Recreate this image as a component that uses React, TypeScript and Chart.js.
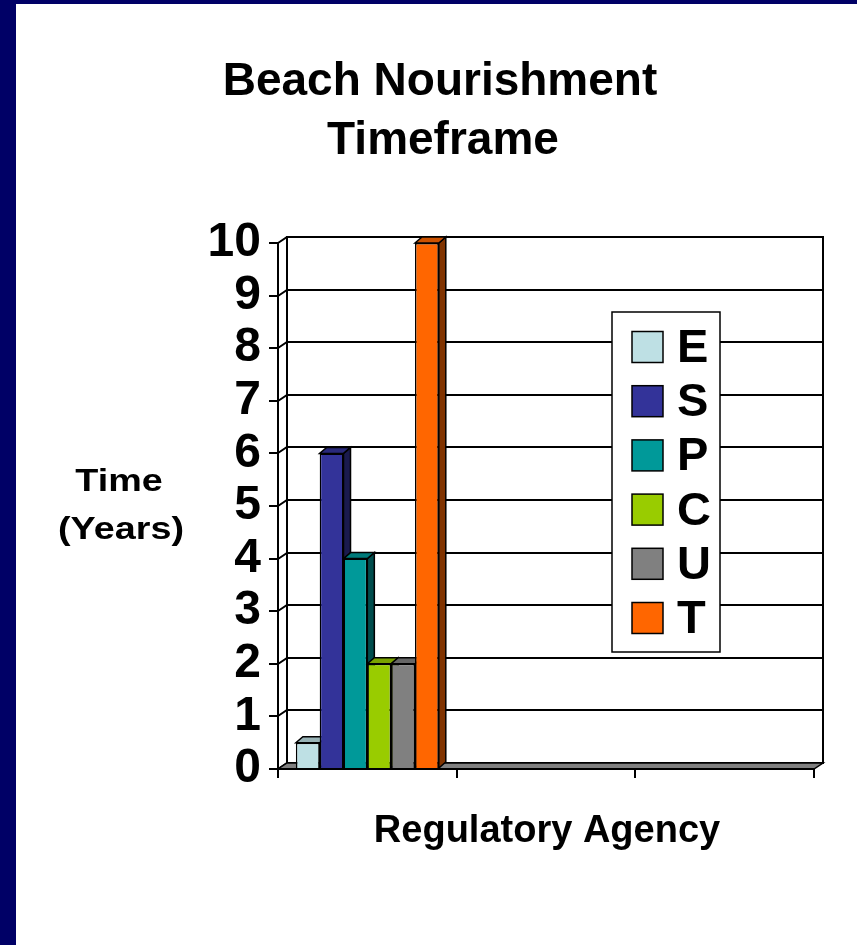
import React, { useEffect, useRef } from "react";
import { Chart, registerables } from "chart.js";

Chart.register(...registerables);

// ---- data ----
const categories = ["", "", ""];
const seriesNames = ["E", "S", "P", "C", "U", "T"];
const valuesE = [0.5, null, null];
const valuesS = [6, null, null];
const valuesP = [4, null, null];
const valuesC = [2, null, null];
const valuesU = [2, null, null];
const valuesT = [10, null, null];
const seriesColors = ["#BEE0E4", "#333399", "#009999", "#99CC00", "#808080", "#FF6600"];
const yMin = 0;
const yMax = 10;
const yStep = 1;
const titleLines = ["Beach Nourishment", "Timeframe"];
const yTitleLines = ["Time", "(Years)"];
const xTitle = "Regulatory Agency";

const FONT = '"Liberation Sans", Arial, sans-serif';
const W = 857;
const H = 945;
const DX_WALL = 9;
const DY_WALL = 6;
const DX_BAR = 7;
const DY_BAR = 6;

function shade(hex: string, f: number) {
  const n = parseInt(hex.slice(1), 16);
  const r = Math.round(((n >> 16) & 255) * f);
  const g = Math.round(((n >> 8) & 255) * f);
  const b = Math.round((n & 255) * f);
  return `rgb(${r},${g},${b})`;
}

const backgroundPlugin = {
  id: "bg3d",
  beforeDraw(chart: any) {
    const { ctx, chartArea } = chart;
    const ys = chart.scales.y;
    const { left, right, bottom } = chartArea;
    ctx.save();
    ctx.fillStyle = "#fff";
    ctx.fillRect(0, 0, W, H);
    ctx.fillStyle = "#000066";
    ctx.fillRect(0, 0, 16, H);
    ctx.fillRect(0, 0, W, 4);

    const topY = ys.getPixelForValue(yMax);
    ctx.lineWidth = 2;
    ctx.strokeStyle = "#000";
    ctx.strokeRect(left + DX_WALL, topY - DY_WALL, right - left, bottom - topY);
    for (let v = yMin; v <= yMax; v += yStep) {
      const y = Math.round(ys.getPixelForValue(v));
      ctx.beginPath();
      ctx.moveTo(left, y);
      ctx.lineTo(left + DX_WALL, y - DY_WALL);
      ctx.lineTo(right + DX_WALL, y - DY_WALL);
      ctx.stroke();
    }
    ctx.beginPath();
    ctx.moveTo(left + DX_WALL, topY - DY_WALL);
    ctx.lineTo(left + DX_WALL, bottom - DY_WALL);
    ctx.stroke();
    ctx.beginPath();
    ctx.moveTo(left, bottom);
    ctx.lineTo(right, bottom);
    ctx.lineTo(right + DX_WALL, bottom - DY_WALL);
    ctx.lineTo(left + DX_WALL, bottom - DY_WALL);
    ctx.closePath();
    ctx.fillStyle = "#808080";
    ctx.fill();
    ctx.lineWidth = 1.5;
    ctx.stroke();
    ctx.restore();
  },
  beforeDatasetsDraw(chart: any) {
    const { ctx } = chart;
    ctx.save();
    ctx.lineWidth = 1.5;
    ctx.strokeStyle = "#000";
    chart.data.datasets.forEach((ds: any, i: number) => {
      const meta = chart.getDatasetMeta(i);
      meta.data.forEach((el: any, j: number) => {
        if (ds.data[j] == null) return;
        const { x, y, base, width } = el.getProps(["x", "y", "base", "width"], true);
        const l = x - width / 2;
        const r = x + width / 2;
        ctx.beginPath();
        ctx.moveTo(r, y);
        ctx.lineTo(r + DX_BAR, y - DY_BAR);
        ctx.lineTo(r + DX_BAR, base - DY_BAR);
        ctx.lineTo(r, base);
        ctx.closePath();
        ctx.fillStyle = shade(seriesColors[i], 0.5);
        ctx.fill();
        ctx.stroke();
        ctx.beginPath();
        ctx.moveTo(l, y);
        ctx.lineTo(l + DX_BAR, y - DY_BAR);
        ctx.lineTo(r + DX_BAR, y - DY_BAR);
        ctx.lineTo(r, y);
        ctx.closePath();
        ctx.fillStyle = shade(seriesColors[i], 0.8);
        ctx.fill();
        ctx.stroke();
      });
    });
    ctx.restore();
  },
  afterDraw(chart: any) {
    const { ctx } = chart;
    ctx.save();
    ctx.fillStyle = "#000";
    ctx.font = `bold 46px ${FONT}`;
    ctx.textAlign = "center";
    ctx.textBaseline = "alphabetic";
    ctx.fillText(titleLines[0], 440, 95);
    ctx.fillText(titleLines[1], 443, 154);

    ctx.font = `bold 32px ${FONT}`;
    const yCenters = [119, 121];
    const yBases = [491, 539];
    yTitleLines.forEach((t, i) => {
      ctx.save();
      ctx.translate(yCenters[i], yBases[i]);
      ctx.scale(1.18, 1);
      ctx.fillText(t, 0, 0);
      ctx.restore();
    });
    ctx.font = `bold 38px ${FONT}`;
    ctx.fillText(xTitle, 547, 842);

    const bx = 612, by = 312, bw = 108, bh = 340;
    ctx.fillStyle = "#fff";
    ctx.fillRect(bx, by, bw, bh);
    ctx.lineWidth = 1.5;
    ctx.strokeStyle = "#000";
    ctx.strokeRect(bx, by, bw, bh);
    ctx.font = `bold 47px ${FONT}`;
    ctx.textAlign = "left";
    ctx.textBaseline = "middle";
    chart.data.datasets.forEach((ds: any, i: number) => {
      const cy = 347 + i * 54.2;
      ctx.fillStyle = ds.backgroundColor;
      ctx.fillRect(632, cy - 15.5, 31, 31);
      ctx.strokeRect(632, cy - 15.5, 31, 31);
      ctx.fillStyle = "#000";
      ctx.fillText(ds.label, 677, cy + 2);
    });
    ctx.restore();
  },
};

export default function App() {
  const ref = useRef<HTMLCanvasElement | null>(null);
  useEffect(() => {
    document.body.style.margin = "0";
    document.body.style.overflow = "hidden";
    const allValues = [valuesE, valuesS, valuesP, valuesC, valuesU, valuesT];
    const chart = new Chart(ref.current as HTMLCanvasElement, {
      type: "bar",
      data: {
        labels: categories,
        datasets: seriesNames.map((name, i) => ({
          label: name,
          data: allValues[i],
          backgroundColor: seriesColors[i],
          borderColor: "#000",
          borderWidth: 1.5,
          categoryPercentage: 0.8,
          barPercentage: 1.0,
        })),
      },
      options: {
        responsive: false,
        animation: false,
        devicePixelRatio: 1,
        layout: { padding: { top: 243, right: 43, left: 0, bottom: 0 } },
        plugins: {
          legend: { display: false },
          title: { display: false },
          tooltip: { enabled: false },
        },
        scales: {
          x: {
            grid: {
              display: true,
              drawOnChartArea: false,
              drawTicks: true,
              tickLength: 9,
              color: "#000",
              lineWidth: 2,
              offset: true,
            },
            border: { display: true, color: "#000", width: 2 },
            ticks: { display: true, autoSkip: false },
            afterFit(scale: any) {
              scale.height = 176;
            },
          },
          y: {
            min: yMin,
            max: yMax,
            grid: {
              display: true,
              drawOnChartArea: false,
              drawTicks: true,
              tickLength: 9,
              color: "#000",
              lineWidth: 2,
            },
            border: { display: true, color: "#000", width: 2 },
            ticks: {
              stepSize: yStep,
              autoSkip: false,
              padding: 8,
              color: "#000",
              font: { family: FONT, size: 48, weight: "bold", lineHeight: 1 },
            },
            afterFit(scale: any) {
              scale.width = 278;
            },
          },
        },
      } as any,
      plugins: [backgroundPlugin],
    });
    return () => chart.destroy();
  }, []);
  return (
    <canvas
      ref={ref}
      width={W}
      height={H}
      style={{ position: "absolute", left: 0, top: 0, display: "block" }}
    />
  );
}
